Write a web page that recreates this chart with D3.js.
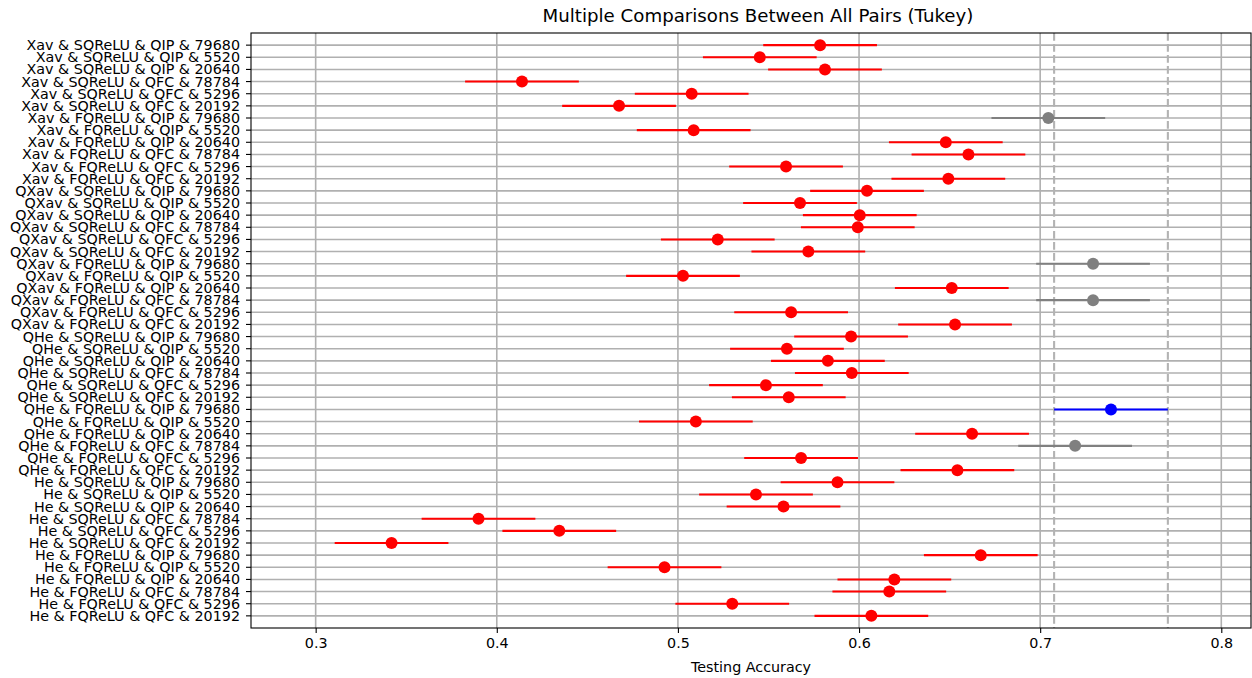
<!DOCTYPE html>
<html>
<head>
<meta charset="utf-8">
<script src="https://cdn.jsdelivr.net/npm/d3@7"></script>
<style>
  body { margin: 0; background: #fff; }
  svg text { font-family: "DejaVu Sans", sans-serif; fill: #000; }
</style>
</head>
<body>
<svg id="chart" width="1252" height="678"></svg>
<script>
// group labels, top to bottom
var labels = [
  "Xav & SQReLU & QIP & 79680", "Xav & SQReLU & QIP & 5520", "Xav & SQReLU & QIP & 20640",
  "Xav & SQReLU & QFC & 78784", "Xav & SQReLU & QFC & 5296", "Xav & SQReLU & QFC & 20192",
  "Xav & FQReLU & QIP & 79680", "Xav & FQReLU & QIP & 5520", "Xav & FQReLU & QIP & 20640",
  "Xav & FQReLU & QFC & 78784", "Xav & FQReLU & QFC & 5296", "Xav & FQReLU & QFC & 20192",
  "QXav & SQReLU & QIP & 79680", "QXav & SQReLU & QIP & 5520", "QXav & SQReLU & QIP & 20640",
  "QXav & SQReLU & QFC & 78784", "QXav & SQReLU & QFC & 5296", "QXav & SQReLU & QFC & 20192",
  "QXav & FQReLU & QIP & 79680", "QXav & FQReLU & QIP & 5520", "QXav & FQReLU & QIP & 20640",
  "QXav & FQReLU & QFC & 78784", "QXav & FQReLU & QFC & 5296", "QXav & FQReLU & QFC & 20192",
  "QHe & SQReLU & QIP & 79680", "QHe & SQReLU & QIP & 5520", "QHe & SQReLU & QIP & 20640",
  "QHe & SQReLU & QFC & 78784", "QHe & SQReLU & QFC & 5296", "QHe & SQReLU & QFC & 20192",
  "QHe & FQReLU & QIP & 79680", "QHe & FQReLU & QIP & 5520", "QHe & FQReLU & QIP & 20640",
  "QHe & FQReLU & QFC & 78784", "QHe & FQReLU & QFC & 5296", "QHe & FQReLU & QFC & 20192",
  "He & SQReLU & QIP & 79680", "He & SQReLU & QIP & 5520", "He & SQReLU & QIP & 20640",
  "He & SQReLU & QFC & 78784", "He & SQReLU & QFC & 5296", "He & SQReLU & QFC & 20192",
  "He & FQReLU & QIP & 79680", "He & FQReLU & QIP & 5520", "He & FQReLU & QIP & 20640",
  "He & FQReLU & QFC & 78784", "He & FQReLU & QFC & 5296", "He & FQReLU & QFC & 20192"
];

var means = [
  0.5785, 0.5452, 0.5812, 0.4139, 0.5076, 0.4675,
  0.7045, 0.5087, 0.6479, 0.6604, 0.5597, 0.6493,
  0.6044, 0.5674, 0.6004, 0.5993, 0.5220, 0.5720,
  0.7292, 0.5028, 0.6512, 0.7292, 0.5625, 0.6530,
  0.5956, 0.5602, 0.5828, 0.5960, 0.5486, 0.5612,
  0.7391, 0.5099, 0.6624, 0.7193, 0.5680, 0.6543,
  0.5881, 0.5431, 0.5583, 0.3899, 0.4345, 0.3419,
  0.6672, 0.4926, 0.6195, 0.6167, 0.5300, 0.6068
];

// "ref" = selected group, "ns" = not significantly different, "sig" = significantly different
var groupStatus = [
  "sig", "sig", "sig", "sig", "sig", "sig",
  "ns",  "sig", "sig", "sig", "sig", "sig",
  "sig", "sig", "sig", "sig", "sig", "sig",
  "ns",  "sig", "sig", "ns",  "sig", "sig",
  "sig", "sig", "sig", "sig", "sig", "sig",
  "ref", "sig", "sig", "ns",  "sig", "sig",
  "sig", "sig", "sig", "sig", "sig", "sig",
  "sig", "sig", "sig", "sig", "sig", "sig"
];

var halfWidth = 0.0314;
var xTicks = [0.3, 0.4, 0.5, 0.6, 0.7, 0.8];

var colors = { sig: "#ff0000", ns: "#808080", ref: "#0000ff" };

var svg = d3.select("#chart");
var margin = { left: 251, right: 1251, top: 33, bottom: 628 };

var x = d3.scaleLinear().domain([0.2643, 0.8164]).range([margin.left, margin.right]);
// first label is on top
var y = d3.scaleLinear().domain([-1, labels.length]).range([margin.top, margin.bottom]);

var g = svg.append("g");

// grid
g.selectAll(".vgrid").data(xTicks).enter().append("line")
  .attr("x1", function(d) { return x(d); }).attr("x2", function(d) { return x(d); })
  .attr("y1", margin.top).attr("y2", margin.bottom)
  .attr("stroke", "#b0b0b0").attr("stroke-width", 1.6);

g.selectAll(".hgrid").data(labels).enter().append("line")
  .attr("x1", margin.left).attr("x2", margin.right)
  .attr("y1", function(d, i) { return y(i); }).attr("y2", function(d, i) { return y(i); })
  .attr("stroke", "#b0b0b0").attr("stroke-width", 1.6);

// dashed lines at bounds of the reference interval
var refIdx = groupStatus.indexOf("ref");
g.selectAll(".refline").data([means[refIdx] - halfWidth, means[refIdx] + halfWidth]).enter().append("line")
  .attr("x1", function(d) { return x(d); }).attr("x2", function(d) { return x(d); })
  .attr("y1", margin.top).attr("y2", margin.bottom)
  .attr("stroke", "#b3b3b3").attr("stroke-width", 2.1)
  .attr("stroke-dasharray", "7.7,3.3");

// intervals
var rows = labels.map(function(l, i) { return { label: l, mean: means[i], status: groupStatus[i], i: i }; });

g.selectAll(".ci").data(rows).enter().append("line")
  .attr("x1", function(d) { return x(d.mean - halfWidth); })
  .attr("x2", function(d) { return x(d.mean + halfWidth); })
  .attr("y1", function(d) { return y(d.i); }).attr("y2", function(d) { return y(d.i); })
  .attr("stroke", function(d) { return colors[d.status]; })
  .attr("stroke-width", 2.1);

g.selectAll(".dot").data(rows).enter().append("circle")
  .attr("cx", function(d) { return x(d.mean); })
  .attr("cy", function(d) { return y(d.i); })
  .attr("r", 6)
  .attr("fill", function(d) { return colors[d.status]; });

// frame
svg.append("rect")
  .attr("x", margin.left).attr("y", margin.top)
  .attr("width", margin.right - margin.left).attr("height", margin.bottom - margin.top)
  .attr("fill", "none").attr("stroke", "#000").attr("stroke-width", 1.1);

// x axis
var xAxis = d3.axisBottom(x).tickValues(xTicks).tickFormat(d3.format(".1f")).tickSize(5).tickPadding(5);
var xa = svg.append("g").attr("transform", "translate(0," + margin.bottom + ")").call(xAxis);
xa.select(".domain").remove();
xa.selectAll("text").style("font-size", "14.3px").style("font-family", "DejaVu Sans");
xa.selectAll("line").attr("stroke-width", 1.1);

// y axis
var ya = svg.append("g").attr("transform", "translate(" + margin.left + ",0)");
ya.selectAll(".yt").data(rows).enter().append("line")
  .attr("x1", -5).attr("x2", 0)
  .attr("y1", function(d) { return y(d.i); }).attr("y2", function(d) { return y(d.i); })
  .attr("stroke", "#000").attr("stroke-width", 1.1);
ya.selectAll(".yl").data(rows).enter().append("text")
  .attr("x", -11).attr("y", function(d) { return y(d.i); })
  .attr("dy", "0.35em").attr("text-anchor", "end")
  .style("font-size", "14.3px")
  .text(function(d) { return d.label; });

// title and x label
svg.append("text").attr("x", 758).attr("y", 22)
  .attr("text-anchor", "middle").style("font-size", "18.2px")
  .text("Multiple Comparisons Between All Pairs (Tukey)");

svg.append("text").attr("x", (margin.left + margin.right) / 2).attr("y", 672)
  .attr("text-anchor", "middle").style("font-size", "14.3px")
  .text("Testing Accuracy");
</script>
</body>
</html>
